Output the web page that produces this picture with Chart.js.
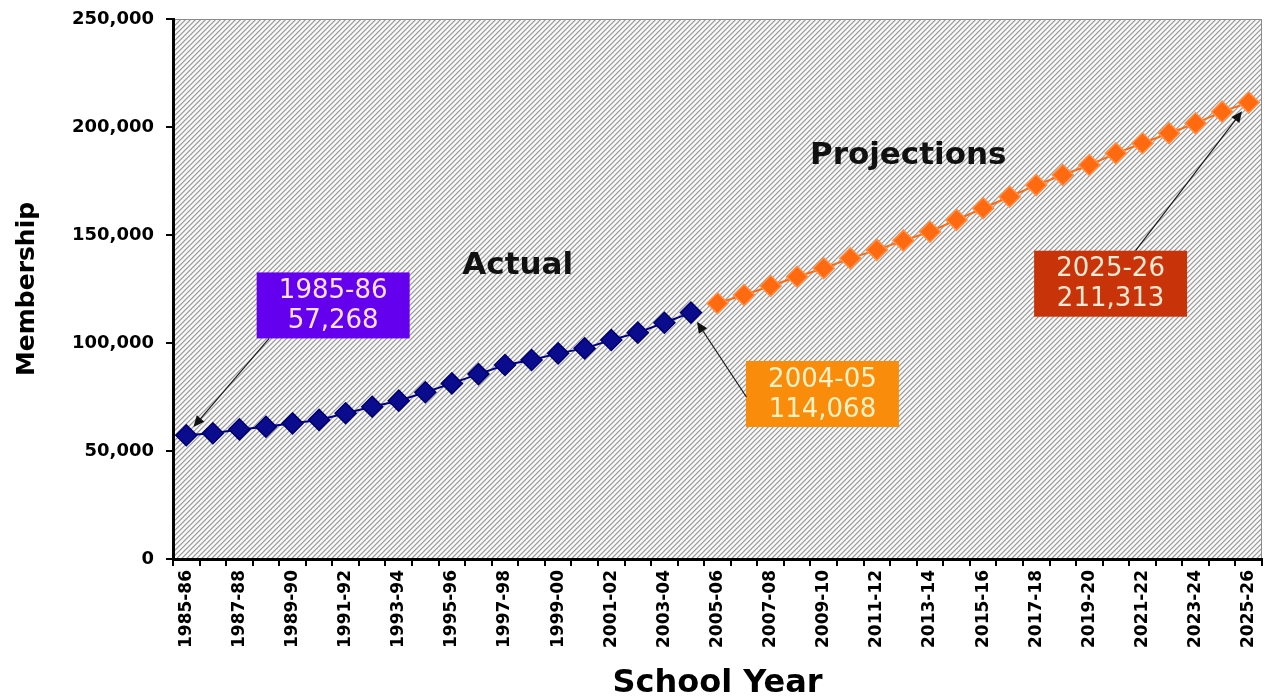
<!DOCTYPE html>
<html><head><meta charset="utf-8">
<script src="https://cdn.jsdelivr.net/npm/chart.js@4.4.1/dist/chart.umd.min.js"></script>
<style>html,body{margin:0;padding:0;background:#fff;}canvas{display:block;}</style>
</head><body>
<canvas id="c" width="1265" height="700"></canvas>
<script>
const categories = ['1985-86','1986-87','1987-88','1988-89','1989-90','1990-91','1991-92','1992-93','1993-94','1994-95',
  '1995-96','1996-97','1997-98','1998-99','1999-00','2000-01','2001-02','2002-03','2003-04','2004-05',
  '2005-06','2006-07','2007-08','2008-09','2009-10','2010-11','2011-12','2012-13','2013-14','2014-15',
  '2015-16','2016-17','2017-18','2018-19','2019-20','2020-21','2021-22','2022-23','2023-24','2024-25','2025-26'];

const actualValues = [57268, 58200, 60000, 61200, 62800, 64400, 67500, 70500, 73300, 77200,
  81300, 85600, 89800, 92100, 95200, 97500, 101400, 104800, 109400, 114068];

const projectionValues = [118400, 122200, 126400, 130700, 134600, 139200, 143100, 147400, 151500, 157000,
  162400, 167700, 173100, 177800, 182400, 187800, 192500, 197100, 201700, 207100, 211313];

const yTicks = [0, 50000, 100000, 150000, 200000, 250000];

const noteTexts = ['Actual', 'Projections'];
const noteIdx = [12.48, 27.18];
const noteVal = [135600, 186600];

const calloutYears = ['1985-86', '2004-05', '2025-26'];
const calloutValues = [57268, 114068, 211313];
const calloutBoxIdx = [5.53, 23.95, 34.8];
const calloutBoxVal = [117400, 76400, 127450];

// full-length series arrays (null where the series is absent)
const actualSeries = categories.map((c, i) => i < actualValues.length ? actualValues[i] : null);
const projSeries = categories.map((c, i) => {
  const j = i - actualValues.length;
  return j >= 0 ? projectionValues[j] : null;
});

const calloutStyle = [
  {fill: '#6500EE', text: '#FFE2FF', anchor: [-64, 33]},
  {fill: '#FA8C0C', text: '#FFF3C6', anchor: [-76, 3]},
  {fill: '#C8330A', text: '#FFE9D2', anchor: [25, -33]}
];

function makePattern(ctx) {
  const n = 5;
  const p = document.createElement('canvas');
  p.width = n; p.height = n;
  const g = p.getContext('2d');
  for (let x = 0; x < n; x++) for (let y = 0; y < n; y++) {
    const k = (x + y) % n;
    g.fillStyle = k === 4 ? '#9e9e9e' : (k === 0 ? '#c6c6c6' : (k === 3 ? '#e6e6e6' : '#f9f9f9'));
    g.fillRect(x, y, 1, 1);
  }
  return ctx.createPattern(p, 'repeat');
}

const deco = {
  id: 'deco',
  beforeDraw(chart) {
    const {ctx, chartArea: a} = chart;
    ctx.save();
    ctx.fillStyle = '#fff';
    ctx.fillRect(0, 0, chart.width, chart.height);
    ctx.fillStyle = makePattern(ctx);
    ctx.fillRect(a.left, a.top, a.right - a.left, a.bottom - a.top);
    ctx.strokeStyle = '#8a8a8a';
    ctx.lineWidth = 1;
    ctx.beginPath();
    ctx.moveTo(a.left, a.top + 0.5);
    ctx.lineTo(a.right - 0.5, a.top + 0.5);
    ctx.lineTo(a.right - 0.5, a.bottom);
    ctx.stroke();
    ctx.restore();
  },
  afterDatasetsDraw(chart) {
    const {ctx} = chart;
    const xs = chart.scales.x, ys = chart.scales.y;
    ctx.save();
    ctx.fillStyle = '#111';
    ctx.font = 'bold 31px "DejaVu Sans"';
    ctx.textAlign = 'center';
    ctx.textBaseline = 'middle';
    noteTexts.forEach((t, i) => {
      ctx.fillText(t, xs.getPixelForValue(noteIdx[i]), ys.getPixelForValue(noteVal[i]));
    });
    calloutYears.forEach((yr, i) => {
      const st = calloutStyle[i];
      const cx = xs.getPixelForValue(calloutBoxIdx[i]);
      const cy = ys.getPixelForValue(calloutBoxVal[i]);
      const w = 153, h = 66;
      const px = xs.getPixelForValue(categories.indexOf(yr));
      const py = ys.getPixelForValue(calloutValues[i]);
      const sx = cx + st.anchor[0], sy = cy + st.anchor[1];
      const dx = sx - px, dy = sy - py, L = Math.hypot(dx, dy);
      const ux = dx / L, uy = dy / L;
      const tx = px + ux * 11, ty = py + uy * 11;
      ctx.fillStyle = st.fill;
      ctx.fillRect(cx - w / 2, cy - h / 2, w, h);
      ctx.strokeStyle = '#1a1a1a';
      ctx.lineWidth = 1.2;
      ctx.beginPath();
      ctx.moveTo(sx, sy);
      ctx.lineTo(tx + ux * 8, ty + uy * 8);
      ctx.stroke();
      ctx.fillStyle = '#111';
      ctx.beginPath();
      ctx.moveTo(tx, ty);
      ctx.lineTo(tx + ux * 11 - uy * 5, ty + uy * 11 + ux * 5);
      ctx.lineTo(tx + ux * 11 + uy * 5, ty + uy * 11 - ux * 5);
      ctx.closePath();
      ctx.fill();
      ctx.fillStyle = st.text;
      ctx.font = '26px "DejaVu Sans"';
      ctx.textAlign = 'center';
      ctx.textBaseline = 'middle';
      ctx.fillText(yr, cx, cy - 14);
      ctx.fillText(calloutValues[i].toLocaleString('en-US'), cx, cy + 16);
    });
    ctx.restore();
  }
};

new Chart(document.getElementById('c'), {
  type: 'line',
  data: {
    labels: categories,
    datasets: [
      {
        label: 'Actual',
        data: actualSeries,
        borderColor: '#000080',
        backgroundColor: '#0B0B8E',
        pointBackgroundColor: '#0B0B8E',
        pointBorderColor: '#00006E',
        pointStyle: 'rectRot',
        pointRadius: 10.5,
        pointBorderWidth: 1.5,
        borderWidth: 2,
        spanGaps: false,
        tension: 0,
        clip: false
      },
      {
        label: 'Projections',
        data: projSeries,
        borderColor: '#FF6A10',
        backgroundColor: '#FF6A10',
        pointBackgroundColor: '#FF6A10',
        pointBorderColor: '#FF8F45',
        pointStyle: 'rectRot',
        pointRadius: 10.5,
        pointBorderWidth: 1.5,
        borderWidth: 2,
        spanGaps: false,
        tension: 0,
        clip: false
      }
    ]
  },
  options: {
    responsive: false,
    devicePixelRatio: 1,
    animation: false,
    layout: {autoPadding: false, padding: {top: 19, right: 3, left: 0, bottom: 0}},
    plugins: {legend: {display: false}, tooltip: {enabled: false}},
    scales: {
      x: {
        type: 'category',
        offset: true,
        grid: {display: true, drawOnChartArea: false, offset: true, tickLength: 7, color: '#000', lineWidth: 2},
        border: {display: true, color: '#000', width: 3},
        ticks: {
          autoSkip: false, maxRotation: 90, minRotation: 90, padding: 4, color: '#000',
          font: {family: 'DejaVu Sans', weight: 'bold', size: 17},
          callback: (v, i) => (i % 2 === 0 ? categories[i] : '')
        },
        title: {
          display: true, text: 'School Year', color: '#000',
          font: {family: 'DejaVu Sans', weight: 'bold', size: 32, lineHeight: 1},
          padding: {top: 0, bottom: 0}
        },
        afterFit: s => { s.height = 141; s.paddingLeft = 0; s.paddingRight = 0; }
      },
      y: {
        min: yTicks[0], max: yTicks[yTicks.length - 1],
        afterBuildTicks: s => { s.ticks = yTicks.map(v => ({value: v})); },
        ticks: {
          padding: 12, color: '#000',
          font: {family: 'DejaVu Sans', weight: 'bold', size: 18},
          callback: v => Number(v).toLocaleString('en-US')
        },
        grid: {drawOnChartArea: false, tickLength: 7, color: '#000', lineWidth: 2},
        border: {display: true, color: '#000', width: 3},
        title: {
          display: true, text: 'Membership', color: '#000',
          font: {family: 'DejaVu Sans', weight: 'bold', size: 25, lineHeight: 1.2},
          padding: {top: 12, bottom: 0}
        },
        afterFit: s => { s.width = 173; s.paddingTop = 0; s.paddingBottom = 0; }
      }
    }
  },
  plugins: [deco]
});
</script>
</body></html>
